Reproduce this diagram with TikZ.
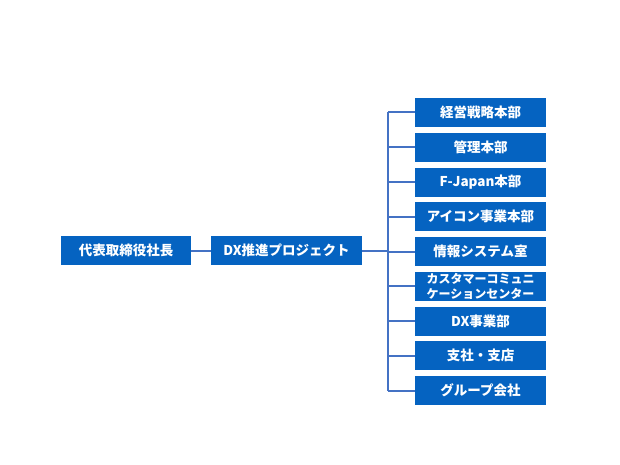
\documentclass[tikz,border=0pt]{standalone}
\usepackage{fontspec}
\newfontfamily\jpfont{Noto Sans CJK JP}
\definecolor{boxblue}{RGB}{5,99,193}
\definecolor{lineblue}{RGB}{68,114,196}
\begin{document}
\begin{tikzpicture}[x=1pt, y=-1pt, line join=round,
  box/.style={fill=boxblue, text=white, minimum height=29pt, inner sep=0pt, align=center,
    font=\jpfont\bfseries\fontsize{13.5}{15}\selectfont},
  link/.style={draw=lineblue, line width=2pt}]
\useasboundingbox (0,0) rectangle (620,465);
\node[box, minimum width=130pt] (ceo) at (126,250.5) {代表取締役社長};
\node[box, minimum width=151pt] (dx) at (286.5,250.5) {DX推進プロジェクト};
\foreach \t/\f [count=\i from 0] in {経営戦略本部/13.5, 管理本部/13.5, F-Japan本部/13.5,
  アイコン事業本部/13.5, 情報システム室/13.5, {カスタマーコミュニ\\ケーションセンター}/12,
  DX事業部/13.5, 支社・支店/13.5, グループ会社/13.5}{
\node[box, minimum width=131pt, font=\jpfont\bfseries\fontsize{\f}{15}\selectfont]
  (d\i) at (480.5,{112.5+34.75*\i}) {\t};
}
\coordinate (trunk) at (387.5,0);
\draw[link] (ceo) -- (dx);
\draw[link] (dx.east) -- (dx.east -| trunk);
\draw[link] (d0.west -| trunk) -- (d8.west -| trunk);
\foreach \i in {0,...,8}{
\draw[link] (d\i.west) -- (d\i.west -| trunk);
}
\end{tikzpicture}
\end{document}
